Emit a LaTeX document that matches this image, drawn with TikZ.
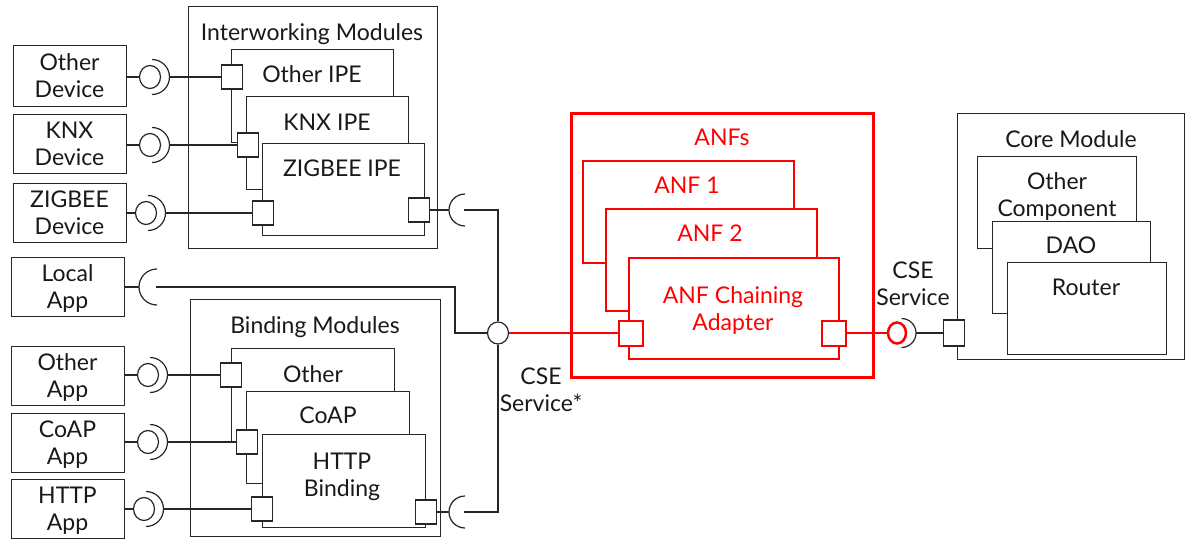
\documentclass[tikz,border=0pt]{standalone}
\usepackage{fontspec}
\setmainfont{Lato}
\usetikzlibrary{shapes.geometric}
\begin{document}
\begin{tikzpicture}[x=1pt,y=-1pt,
  bx/.style={draw=black!85, line width=1.2pt, fill=white, inner sep=0pt, anchor=north west},
  rbx/.style={draw=red, line width=2pt, fill=white, inner sep=0pt, anchor=north west},
  port/.style={draw=black!85, line width=1.2pt, fill=white, minimum width=21pt, minimum height=24pt, inner sep=0pt},
  rport/.style={draw=red, line width=2pt, fill=white, minimum width=24pt, minimum height=25pt, inner sep=0pt},
  ball/.style={draw=black!85, line width=1.2pt, fill=white, ellipse, minimum width=21pt, minimum height=23pt, inner sep=0pt},
  conn/.style={draw=black!85, line width=1.2pt},
  txt/.style={font=\fontsize{23}{27}\selectfont, align=center, inner sep=0pt, anchor=base, text=black!90},
  rtxt/.style={txt, text=red},
]
\useasboundingbox (0,0) rectangle (1187,543);

% ---------- left devices / apps ----------
\node[bx, minimum width=113pt, minimum height=61pt] (od) at (13,45) {};
\node[bx, minimum width=113pt, minimum height=59pt] (kd) at (13,114) {};
\node[bx, minimum width=113pt, minimum height=59pt] (zd) at (13,183) {};
\node[bx, minimum width=113pt, minimum height=59pt] (la) at (11,257) {};
\node[bx, minimum width=113pt, minimum height=59pt] (oa) at (11,346) {};
\node[bx, minimum width=113pt, minimum height=59pt] (ca) at (11,413) {};
\node[bx, minimum width=113pt, minimum height=59pt] (ha) at (11,479) {};
\node[txt] at (69.5,97) {Other\\Device};
\node[txt] at (69.5,165) {KNX\\Device};
\node[txt] at (69.5,234) {ZIGBEE\\Device};
\node[txt] at (67.5,308) {Local\\App};
\node[txt] at (67.5,397) {Other\\App};
\node[txt] at (67.5,464) {CoAP\\App};
\node[txt] at (67.5,530) {HTTP\\App};

% ---------- Interworking modules ----------
\node[bx, minimum width=249pt, minimum height=242pt] (iw) at (188,6) {};
\node[txt] at (312,41) {Interworking Modules};
\node[bx, minimum width=162pt, minimum height=93pt] (oipe) at (231,49) {};
\node[bx, minimum width=162pt, minimum height=93pt] (kipe) at (246,96) {};
\node[bx, minimum width=162pt, minimum height=92pt] (zipe) at (262,143) {};
\node[txt] at (312,83) {Other IPE};
\node[txt] at (327,130) {KNX IPE};
\node[txt] at (342,176) {ZIGBEE IPE};

% ---------- Binding modules ----------
\node[bx, minimum width=250pt, minimum height=237pt] (bm) at (190,299) {};
\node[txt] at (315,333) {Binding Modules};
\node[bx, minimum width=163pt, minimum height=93pt] (ob) at (231,348) {};
\node[bx, minimum width=163pt, minimum height=92pt] (cb) at (246,391) {};
\node[bx, minimum width=163pt, minimum height=93pt] (hb) at (262,434) {};
\node[txt] at (313,382) {Other};
\node[txt] at (328,423) {CoAP};
\node[txt] at (342,496) {HTTP\\Binding};

% ---------- ANFs ----------
\node[rbx, line width=2.5pt, minimum width=302pt, minimum height=264pt] (anfs) at (570,112) {};
\node[rtxt] at (722,145) {ANFs};
\node[rbx, minimum width=211pt, minimum height=102pt] (anf1) at (582,160) {};
\node[rbx, minimum width=211pt, minimum height=102pt] (anf2) at (605,208) {};
\node[rbx, minimum width=210pt, minimum height=101pt] (anfca) at (628,257) {};
\node[rtxt] at (687,193) {ANF 1};
\node[rtxt] at (710,241) {ANF 2};
\node[rtxt] at (733,330) {ANF Chaining\\Adapter};

% ---------- Core module ----------
\node[bx, minimum width=227pt, minimum height=246pt] (core) at (957,113) {};
\node[txt] at (1071,147) {Core Module};
\node[bx, minimum width=159pt, minimum height=92pt] (ocomp) at (977,156) {};
\node[bx, minimum width=158pt, minimum height=92pt] (dao) at (992,221) {};
\node[bx, minimum width=159pt, minimum height=92pt] (router) at (1007,262) {};
\node[txt] at (1057,216) {Other\\Component};
\node[txt] at (1071,253) {DAO};
\node[txt] at (1086,295) {Router};

% ---------- service labels ----------
\node[txt] at (541,411) {CSE\\Service*};
\node[txt] at (913,305) {CSE\\Service};

% ---------- balls and socket centres ----------
\node[ball] (bod) at (150,77) {};
\node[ball] (bkd) at (150,145) {};
\node[ball] (bzd) at (146,213) {};
\node[ball] (boa) at (148,375) {};
\node[ball] (bca) at (148,442) {};
\node[ball] (bha) at (144,509) {};
\coordinate (sla) at (157,287);
\coordinate (szr) at (465,210);
\coordinate (shr) at (465,512);
\coordinate (bend) at (455,287);

% ---------- ports ----------
\node[port] (pod) at (232,77) {};
\node[port] (pkd) at (248,145) {};
\node[port] (pzd) at (263,213) {};
\node[port] (pzr) at (419,210) {};
\node[port] (poa) at (231,375) {};
\node[port] (pca) at (247,442) {};
\node[port] (pha) at (262,509) {};
\node[port] (phr) at (426,512) {};
\node[rport] (pal) at (631,333) {};
\node[rport] (par) at (834,333) {};
\node[port, minimum height=26pt] (pcore) at (954,333) {};

\node[ball, minimum width=21pt, minimum height=22pt] (cball) at (498,333) {};
\node[ball, draw=red, line width=2.5pt, minimum width=18pt, minimum height=21pt] (rball) at (897,333) {};

% ---------- connectors ----------
\foreach \b/\p/\d in {bod/pod/od, bkd/pkd/kd, bzd/pzd/zd, boa/poa/oa, bca/pca/ca, bha/pha/ha} {
  \draw[conn] (\b.west -| \d.east) -- (\b.west);
  \draw[conn] ([xshift=2pt,yshift=17.5pt]\b.center) arc[start angle=90, end angle=-90, radius=17.5pt];
  \draw[conn] ([xshift=19.5pt]\b.center) -- (\p.west);
}
% Local app socket
\draw[conn] (la.east |- sla) -- ([xshift=-18pt]sla);
\draw[conn] ([yshift=18pt]sla) arc[start angle=90, end angle=270, radius=18pt];
\draw[conn] ([xshift=-1pt]sla) -- (bend) |- (cball.west);
% ZIGBEE IPE right port
\draw[conn] (pzr.east) -- ([xshift=-16pt]szr);
\draw[conn] ([yshift=16pt]szr) arc[start angle=90, end angle=270, radius=16pt];
\draw[conn] ([xshift=-1pt]szr) -| (cball.north);
% HTTP binding right port
\draw[conn] (phr.east) -- ([xshift=-16pt]shr);
\draw[conn] ([yshift=16pt]shr) arc[start angle=90, end angle=270, radius=16pt];
\draw[conn] ([xshift=-1pt]shr) -| (cball.south);
% red connectors
\draw[red, line width=1.3pt] (cball.east) -- (pal.west);
\draw[red, line width=2.5pt] (par.east) -- (rball.west);
\draw[conn] ([xshift=4.5pt,yshift=14.5pt]rball.center) arc[start angle=90, end angle=-90, radius=14.5pt];
\draw[conn] ([xshift=19pt]rball.center) -- (pcore.west);
\end{tikzpicture}
\end{document}
